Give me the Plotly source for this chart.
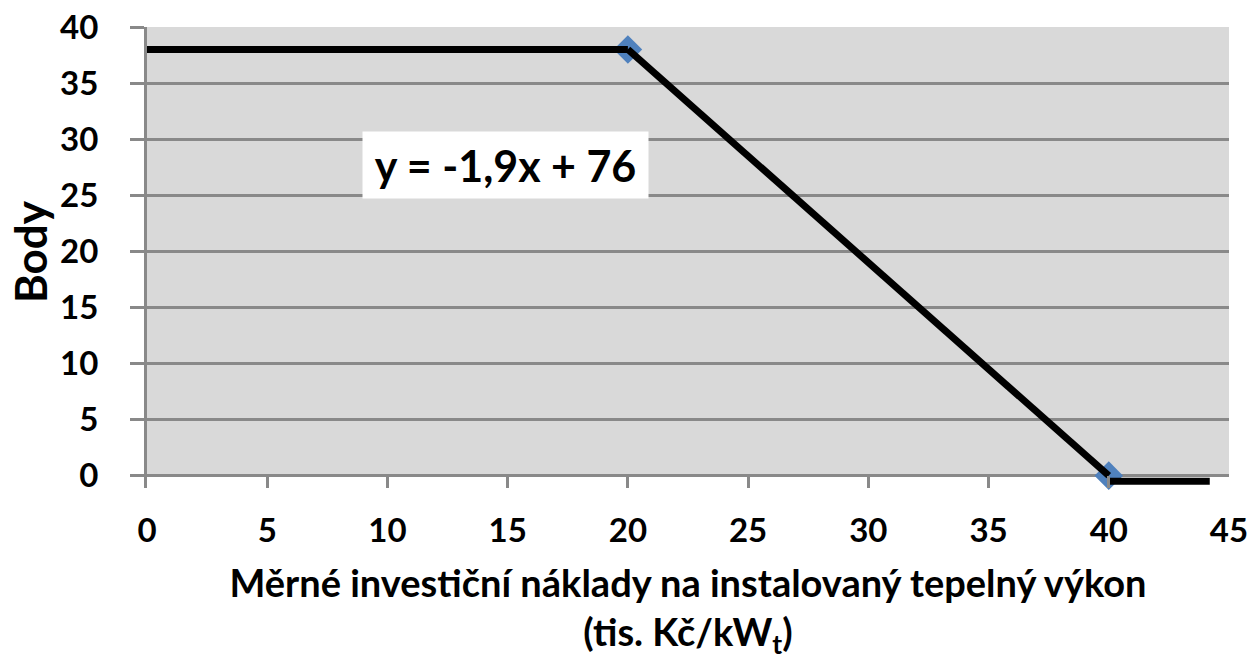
import plotly.graph_objects as go

# Data
flat_x = [0, 20]
flat_y = [38, 38]
trend_x = [20, 40]
trend_y = [38, 0]
tail_x = [40, 44.2]
tail_y = [-0.5, -0.5]
point_x = [20, 40]
point_y = [38, 0]
x_ticks = [0, 5, 10, 15, 20, 25, 30, 35, 40, 45]
y_ticks = [0, 5, 10, 15, 20, 25, 30, 35, 40]
equation = "y = -1,9x + 76"
x_title = "Měrné investiční náklady na instalovaný tepelný výkon<br>(tis. Kč/kW<sub>t</sub>)"
y_title = "Body"

FONT = "Lato"
GRID = "#898989"

fig = go.Figure()
fig.add_trace(go.Scatter(x=point_x, y=point_y, mode="markers",
                         marker=dict(symbol="diamond", size=22, color="#4f81bd"),
                         cliponaxis=False, showlegend=False))
for xs, ys in [(flat_x, flat_y), (trend_x, trend_y), (tail_x, tail_y)]:
    fig.add_trace(go.Scatter(x=xs, y=ys, mode="lines",
                             line=dict(color="black", width=7),
                             showlegend=False))

fig.add_shape(type="rect", xref="x", yref="y", x0=0, x1=45, y0=0, y1=40,
              fillcolor="#d9d9d9", line=dict(width=0), layer="below")

fig.add_annotation(x=14.9, y=27.7, xref="x", yref="y", text=equation,
                   showarrow=False, bgcolor="white", width=285, height=66,
                   borderpad=0, font=dict(family=FONT, size=43, color="black", weight="bold"))

fig.add_annotation(x=-0.108, y=0.512, xref="paper", yref="paper", text=y_title,
                   showarrow=False, textangle=-90, xanchor="center", yanchor="middle",
                   font=dict(family=FONT, size=44, color="black", weight="bold"))

fig.update_layout(
    width=1252, height=660,
    margin=dict(l=147, r=23, t=27, b=172, autoexpand=False),
    plot_bgcolor="white", paper_bgcolor="white",
    font=dict(family=FONT, color="black"),
)
fig.update_xaxes(range=[0, 45], tickvals=x_ticks, ticks="inside", ticklen=12,
                 tickwidth=3, tickcolor=GRID, showgrid=False, zeroline=False,
                 showline=False, ticklabelstandoff=20, automargin=False,
                 tickfont=dict(family=FONT, size=33, weight="bold", color="black"),
                 title=dict(text=x_title, standoff=50,
                            font=dict(family=FONT, size=38, weight="bold", color="black")))
fig.update_yaxes(range=[-1.1, 40], tickvals=y_ticks, ticks="outside", ticklen=14,
                 tickwidth=3, tickcolor=GRID, showgrid=True, gridcolor=GRID,
                 gridwidth=3, zeroline=False, showline=True, linecolor=GRID,
                 linewidth=3, ticklabelstandoff=25, automargin=False,
                 tickfont=dict(family=FONT, size=33, weight="bold", color="black"))

fig.write_html("out.html", config={"displayModeBar": False},
               post_script="document.body.style.margin='0';document.body.style.overflow='hidden';")
